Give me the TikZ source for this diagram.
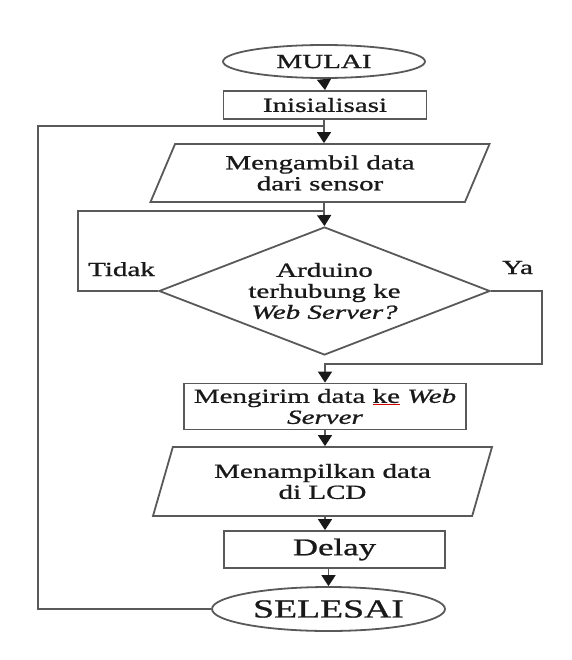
\documentclass[tikz,border=0pt]{standalone}
\usepackage{fontspec}
\setmainfont{Liberation Serif}[FakeStretch=1.45, FakeBold=1,
    ItalicFont={Liberation Serif Italic}, ItalicFeatures={FakeStretch=1.45, FakeBold=1}]
\usepackage{xcolor}
\usetikzlibrary{shapes.geometric, arrows.meta, positioning, calc}

\tikzset{
    flow/.style={draw=black!65, line width=1.8pt, text=black!90, inner sep=0pt, align=center, font=\fontsize{20}{21}\selectfont},
    termnode/.style={flow, ellipse},
    procnode/.style={flow, rectangle},
    ionode/.style={flow, trapezium, trapezium stretches body},
    decnode/.style={flow, diamond, aspect=2.586},
    line/.style={draw=black!65, line width=1.8pt},
    arr/.style={line, -{Triangle[length=11pt,width=14pt,color=black!90]}},
    lbl/.style={text=black!90, font=\fontsize{20}{21}\selectfont, anchor=base, inner sep=0pt}
}

\begin{document}
\begin{tikzpicture}[x=1pt, y=-1pt]
    \useasboundingbox (0,0) rectangle (571,660);

    % Blocks
    \node[termnode, minimum width=202pt, minimum height=33pt] (mulai) at (324,61.5) {MULAI};
    \node[procnode, minimum width=203pt, minimum height=28pt] (init) at (325,105) {Inisialisasi};
    \node[ionode, trapezium left angle=55, trapezium right angle=125, minimum width=339pt, minimum height=58pt] (ambil) at (320,173) {Mengambil data\\dari sensor};
    \node[decnode, minimum width=331pt, minimum height=128pt] (cek) at (324.5,291) {Arduino\\terhubung ke\\\textit{Web Server?}};
    \node[procnode, minimum width=282pt, minimum height=46pt] (kirim) at (325,406.5) {Mengirim data {\color{red!80!black}\underline{\color{black!90}ke}} \textit{Web}\\\textit{Server}};
    \node[ionode, trapezium left angle=60.5, trapezium right angle=119.5, minimum width=339pt, minimum height=69pt] (tampil) at (322.5,481.5) {Menampilkan data\\di LCD};
    \node[procnode, minimum width=221pt, minimum height=37pt, font=\fontsize{24}{26}\selectfont] (delay) at (334.5,549.5) {Delay};
    \node[termnode, minimum width=233pt, minimum height=44pt, font=\fontsize{26}{28}\selectfont] (selesai) at (328.5,609) {SELESAI};

    % Branch labels
    \node[lbl] (tidak) at (121.5,276) {Tidak};
    \node[lbl] (ya) at (517.5,274) {Ya};

    % Joints
    \coordinate (jA) at (324,126);
    \coordinate (jB) at (324,211);
    \coordinate (loopL) at (38,126);
    \coordinate (tdk) at (78,211);
    \coordinate (yaR) at (542,364);

    % Main flow
    \draw[arr] (mulai.south) -- (init.north);
    \draw[line] (init.south -| jA) -- (jA);
    \draw[arr] (jA) -- (jA |- ambil.north);
    \draw[line] (ambil.south -| jB) -- (jB);
    \draw[arr] (jB) -- (cek.north);
    \draw[arr] (cek.east) -| (yaR) -| (kirim.north);
    \draw[arr] (kirim.south) -- (kirim.south |- tampil.north);
    \draw[arr] (kirim.south |- tampil.south) -- (kirim.south |- delay.north);
    \draw[arr] (selesai.north |- delay.south) -- (selesai.north);

    % Loops
    \draw[line] (cek.west) -| (tdk) -- (jB);
    \draw[line] (selesai.west) -| (loopL) -- (jA);
\end{tikzpicture}
\end{document}
